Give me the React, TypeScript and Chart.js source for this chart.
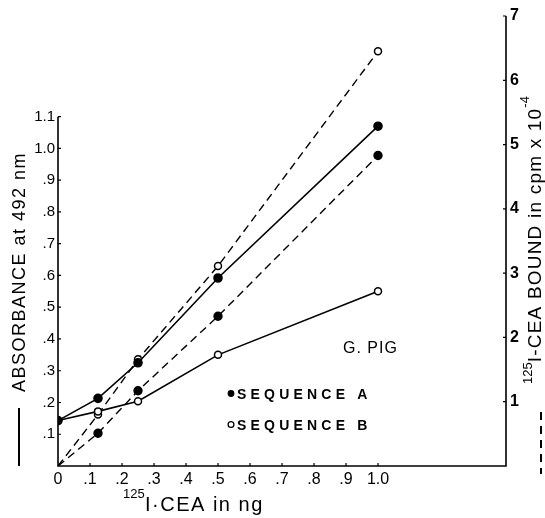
import React, { useEffect, useRef } from "react";
import { Chart, registerables } from "chart.js";

Chart.register(...registerables);

// ---- data ----
const doses = [0, 0.125, 0.25, 0.5, 1.0];
const absorbanceA = [0.143, 0.213, 0.325, 0.592, 1.07];
const absorbanceB = [0.143, 0.172, 0.204, 0.35, 0.55];
const boundA = [0, 0.51, 1.17, 2.33, 4.83];
const boundB = [0, 0.8, 1.66, 3.11, 6.45];

const xTicks = [0, 0.1, 0.2, 0.3, 0.4, 0.5, 0.6, 0.7, 0.8, 0.9, 1.0];
const leftTicks = [0.1, 0.2, 0.3, 0.4, 0.5, 0.6, 0.7, 0.8, 0.9, 1.0, 1.1];
const rightTicks = [1, 2, 3, 4, 5, 6, 7];

const leftTitle = "ABSORBANCE at 492 nm";
const rightTitleSup = "125";
const rightTitleMain = "I-CEA BOUND in cpm x 10";
const rightTitleExp = "-4";
const xTitleSup = "125";
const xTitleMain = "I\u00b7CEA in ng";
const speciesLabel = "G. PIG";
const legendA = "SEQUENCE A";
const legendB = "SEQUENCE B";

const FONT = "'Liberation Sans', Arial, sans-serif";

const fmtDec = (v: number) => {
  if (v === 0) return "0";
  if (v >= 1) return v.toFixed(1);
  return "." + Math.round(v * 10);
};

const toPts = (xs: number[], ys: number[]) => xs.map((x, i) => ({ x, y: ys[i] }));

const decorPlugin = {
  id: "decor",
  beforeDatasetsDraw(chart: any) {
    const { ctx } = chart;
    const xs = chart.scales.x;
    const yl = chart.scales.y;
    const yr = chart.scales.y2;
    const x0 = xs.getPixelForValue(0);
    const xEnd = xs.getPixelForValue(1.4);
    const yBase = yl.getPixelForValue(0);
    ctx.save();
    ctx.strokeStyle = "#000";
    ctx.lineWidth = 1.6;
    ctx.beginPath();
    ctx.moveTo(x0, yl.getPixelForValue(leftTicks[leftTicks.length - 1]));
    ctx.lineTo(x0, yBase);
    ctx.lineTo(xEnd, yBase);
    ctx.lineTo(xEnd, yr.getPixelForValue(7));
    ctx.stroke();
    ctx.lineWidth = 1.2;
    ctx.beginPath();
    leftTicks.forEach((v) => {
      const y = yl.getPixelForValue(v);
      ctx.moveTo(x0, y);
      ctx.lineTo(x0 + 3, y);
    });
    xTicks.forEach((v) => {
      if (v === 0) return;
      const x = xs.getPixelForValue(v);
      ctx.moveTo(x, yBase);
      ctx.lineTo(x, yBase - 3);
    });
    rightTicks.forEach((v) => {
      const y = yr.getPixelForValue(v);
      ctx.moveTo(xEnd, y);
      ctx.lineTo(xEnd - 3, y);
    });
    ctx.stroke();
    ctx.restore();
  },
  afterDraw(chart: any) {
    const { ctx } = chart;
    ctx.save();
    ctx.fillStyle = "#000";
    ctx.strokeStyle = "#000";

    // left title
    ctx.save();
    ctx.translate(20, 272);
    ctx.rotate(-Math.PI / 2);
    ctx.font = `18px ${FONT}`;
    (ctx as any).letterSpacing = "1.5px";
    ctx.textAlign = "center";
    ctx.textBaseline = "middle";
    ctx.fillText(leftTitle, 0, 0);
    ctx.restore();

    // left solid-line key
    ctx.lineWidth = 2;
    ctx.beginPath();
    ctx.moveTo(19, 408);
    ctx.lineTo(19, 466);
    ctx.stroke();

    // right title
    ctx.save();
    ctx.translate(536, 240);
    ctx.rotate(-Math.PI / 2);
    ctx.textBaseline = "middle";
    ctx.textAlign = "left";
    ctx.font = `19px ${FONT}`;
    (ctx as any).letterSpacing = "1.2px";
    const wMain = ctx.measureText(rightTitleMain).width;
    ctx.font = `13px ${FONT}`;
    (ctx as any).letterSpacing = "0px";
    const wSup = ctx.measureText(rightTitleSup).width;
    const wExp = ctx.measureText(rightTitleExp).width;
    const total = wSup + wMain + wExp;
    let cx = -total / 2;
    ctx.fillText(rightTitleSup, cx, -8);
    cx += wSup;
    ctx.font = `19px ${FONT}`;
    (ctx as any).letterSpacing = "1.2px";
    ctx.fillText(rightTitleMain, cx, 0);
    cx += wMain;
    ctx.font = `13px ${FONT}`;
    (ctx as any).letterSpacing = "0px";
    ctx.fillText(rightTitleExp, cx, -11);
    ctx.restore();

    // right dashed-line key
    ctx.save();
    ctx.lineWidth = 2;
    ctx.setLineDash([8, 6]);
    ctx.beginPath();
    ctx.moveTo(541, 412);
    ctx.lineTo(541, 474);
    ctx.stroke();
    ctx.restore();

    // x title
    ctx.textAlign = "left";
    ctx.textBaseline = "alphabetic";
    ctx.font = `13px ${FONT}`;
    ctx.fillText(xTitleSup, 123, 498);
    ctx.font = `20px ${FONT}`;
    (ctx as any).letterSpacing = "1.5px";
    ctx.fillText(xTitleMain, 145, 511);
    (ctx as any).letterSpacing = "0px";

    // species label
    ctx.font = `16px ${FONT}`;
    (ctx as any).letterSpacing = "1px";
    ctx.fillText(speciesLabel, 343, 353);

    // legend
    ctx.font = `bold 14px ${FONT}`;
    (ctx as any).letterSpacing = "4.2px";
    ctx.fillText(legendA, 237, 399);
    ctx.fillText(legendB, 237, 430);
    (ctx as any).letterSpacing = "0px";
    ctx.beginPath();
    ctx.arc(231, 393.5, 3.4, 0, Math.PI * 2);
    ctx.fill();
    ctx.lineWidth = 1.3;
    ctx.beginPath();
    ctx.arc(231, 424.5, 2.9, 0, Math.PI * 2);
    ctx.stroke();

    ctx.restore();
  },
};

export default function App() {
  const ref = useRef<HTMLCanvasElement | null>(null);
  useEffect(() => {
    if (!ref.current) return;
    const tickFont = { family: FONT, size: 14 };
    const noGrid = { display: false, drawTicks: false };
    const chart = new Chart(ref.current, {
      type: "scatter",
      data: {
        datasets: [
          {
            label: "A absorbance",
            data: toPts(doses, absorbanceA),
            yAxisID: "y",
            showLine: true,
            borderColor: "#000",
            borderWidth: 1.6,
            pointRadius: 4,
            pointBackgroundColor: "#000",
            pointBorderColor: "#000",
          },
          {
            label: "B absorbance",
            data: toPts(doses, absorbanceB),
            yAxisID: "y",
            showLine: true,
            borderColor: "#000",
            borderWidth: 1.6,
            pointRadius: 3.5,
            pointBackgroundColor: "#fff",
            pointBorderColor: "#000",
            pointBorderWidth: 1.5,
          },
          {
            label: "A bound",
            data: toPts(doses, boundA),
            yAxisID: "y2",
            showLine: true,
            borderColor: "#000",
            borderWidth: 1.4,
            borderDash: [8, 5],
            pointRadius: [0, 4, 4, 4, 4],
            pointBackgroundColor: "#000",
            pointBorderColor: "#000",
          },
          {
            label: "B bound",
            data: toPts(doses, boundB),
            yAxisID: "y2",
            showLine: true,
            borderColor: "#000",
            borderWidth: 1.4,
            borderDash: [8, 5],
            pointRadius: [0, 3.5, 3.5, 3.5, 3.5],
            pointBackgroundColor: "#fff",
            pointBorderColor: "#000",
            pointBorderWidth: 1.5,
          },
        ],
      },
      options: {
        responsive: false,
        animation: false,
        devicePixelRatio: 1,
        layout: { padding: { top: 16, left: 0, right: 0, bottom: 0 } },
        plugins: { legend: { display: false }, tooltip: { enabled: false } },
        scales: {
          x: {
            type: "linear",
            position: "bottom",
            min: 0,
            max: 1.4,
            grid: noGrid,
            border: { display: false },
            afterBuildTicks: (s: any) => {
              s.ticks = xTicks.map((v) => ({ value: v }));
            },
            afterFit: (s: any) => {
              s.height = 52;
            },
            ticks: {
              autoSkip: false,
              maxRotation: 0,
              padding: 4,
              color: "#000",
              font: { ...tickFont, size: 16 },
              callback: (v: any) => fmtDec(Number(v)),
            },
          },
          y: {
            type: "linear",
            position: "left",
            min: 0,
            max: 1.417,
            grid: noGrid,
            border: { display: false },
            afterBuildTicks: (s: any) => {
              s.ticks = leftTicks.map((v) => ({ value: v }));
            },
            afterFit: (s: any) => {
              s.width = 58;
            },
            ticks: {
              padding: 3,
              color: "#000",
              font: { ...tickFont, size: 15 },
              callback: (v: any) => fmtDec(Number(v)),
            },
          },
          y2: {
            type: "linear",
            position: "right",
            min: 0,
            max: 7,
            grid: noGrid,
            border: { display: false },
            afterBuildTicks: (s: any) => {
              s.ticks = rightTicks.map((v) => ({ value: v }));
            },
            afterFit: (s: any) => {
              s.width = 39;
            },
            ticks: {
              padding: 4,
              color: "#000",
              font: { ...tickFont, size: 16, weight: "bold" },
              callback: (v: any) => String(v),
            },
          },
        },
      },
      plugins: [decorPlugin],
    } as any);
    return () => chart.destroy();
  }, []);
  return (
    <div style={{ position: "fixed", left: 0, top: 0, width: 545, height: 518, background: "#fff" }}>
      <canvas ref={ref} width={545} height={518} style={{ display: "block" }} />
    </div>
  );
}
